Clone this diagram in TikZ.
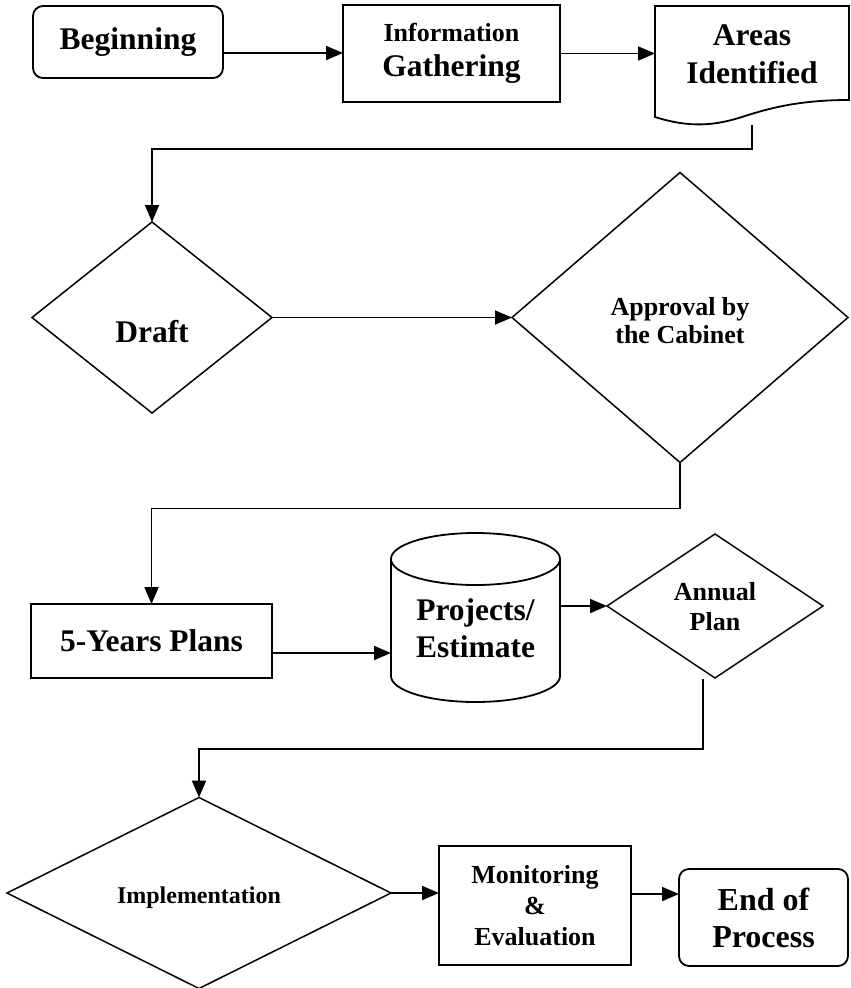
\documentclass[tikz,border=0pt]{standalone}
\usepackage{fontspec}
\setmainfont{Liberation Serif}
\usetikzlibrary{shapes.geometric,arrows.meta}
\begin{document}
\begin{tikzpicture}[x=1pt,y=-1pt,
  every node/.style={align=center, inner sep=0pt, outer sep=0pt},
  ln/.style={line width=1.8pt},
  box/.style={draw, rectangle, line width=1.8pt},
  rbox/.style={box, rounded corners=10pt},
  dia/.style={draw, diamond, line width=1.5pt},
  arr/.style={line width=1.8pt, -{Triangle[length=17pt,width=14pt]}},
  fA/.style={font=\bfseries\fontsize{31.5pt}{38pt}\selectfont},
  fB/.style={font=\bfseries\fontsize{26pt}{30pt}\selectfont},
  fC/.style={font=\bfseries\fontsize{24pt}{28pt}\selectfont}]
\useasboundingbox (0,0) rectangle (851,988);

% top row
\node[rbox, fA, minimum width=190pt, minimum height=72pt] (start) at (128,42) {Beginning};
\node[box, minimum width=217pt, minimum height=97pt, font=\bfseries\fontsize{31.5pt}{35pt}\selectfont] (info) at (451.5,53.5)
  {{\fontsize{26pt}{35pt}\selectfont Information}\\Gathering};
\draw[ln] (655,6) -- (849,6) -- (849,100) .. controls (800,100) and (770,108) .. (745,116)
  .. controls (715,126) and (690,128) .. (655,117) -- cycle;
\node[fA, minimum width=194pt, minimum height=94pt] (areas) at (752,54) {Areas\\Identified};

% diamonds
\node[dia, minimum width=240pt, minimum height=191pt] (draft) at (152,317.5) {};
\node[fA] (draftlbl) at (152,332) {Draft};
\node[dia, minimum width=336pt, minimum height=290pt] (approval) at (680,317.5) {};
\node[font=\bfseries\fontsize{26pt}{28pt}\selectfont] (approvallbl) at (680,321) {Approval by\\the Cabinet};

% third row
\node[box, fA, minimum width=241pt, minimum height=74pt] (plans) at (151.5,641) {5-Years Plans};
\draw[ln] (475.5,559) ellipse (84.5 and 26);
\draw[ln] (391,559) -- (391,676) arc (180:0:84.5 and 26) -- (560,559);
\node[font=\bfseries\fontsize{31.5pt}{37pt}\selectfont, minimum width=169pt, minimum height=140pt] (proj) at (475.5,628) {Projects/\\Estimate};
\node[dia, minimum width=216pt, minimum height=144pt] (annual) at (715,606) {};
\node[fB] (annuallbl) at (715,607) {Annual\\Plan};

% bottom row
\node[dia, minimum width=384pt, minimum height=191pt] (impl) at (199,893) {};
\node[fC] (impllbl) at (199,898) {Implementation};
\node[box, minimum width=192pt, minimum height=119pt, font=\bfseries\fontsize{26pt}{31pt}\selectfont] (monitor) at (535,905.5) {Monitoring\\\&\\Evaluation};
\node[rbox, minimum width=169pt, minimum height=97pt, font=\bfseries\fontsize{32pt}{37pt}\selectfont] (finish) at (763.5,917.5) {End of\\Process};

% connectors
\coordinate (b1) at ([yshift=-11pt]start.east);
\draw[arr] (b1) -- (b1 -| info.west);
\draw[arr] (info.east) -- (info.east -| areas.west);
\coordinate (a1) at (752,125);
\coordinate (a2) at (752,149);
\draw[arr] (a1) -- (a2) -| (draft.north);
\draw[arr] (draft.east) -- (approval.west);
\draw[arr] (approval.south) -- ++(0,46) -| (plans.north);
\coordinate (p1) at ([yshift=-12pt]plans.east);
\draw[arr] (p1) -- (p1 -| proj.west);
\coordinate (p2) at ([yshift=22pt]proj.east);
\draw[arr] (p2) -- (p2 -| annual.west);
\coordinate (n1) at ([xshift=-12pt,yshift=-1pt]annual.south);
\draw[arr] (n1) -- ++(0,70) -| (impl.north);
\draw[arr] (impl.east) -- (impl.east -| monitor.west);
\coordinate (m1) at ([yshift=11.5pt]monitor.east);
\draw[arr] (m1) -- (m1 -| finish.west);
\end{tikzpicture}
\end{document}
